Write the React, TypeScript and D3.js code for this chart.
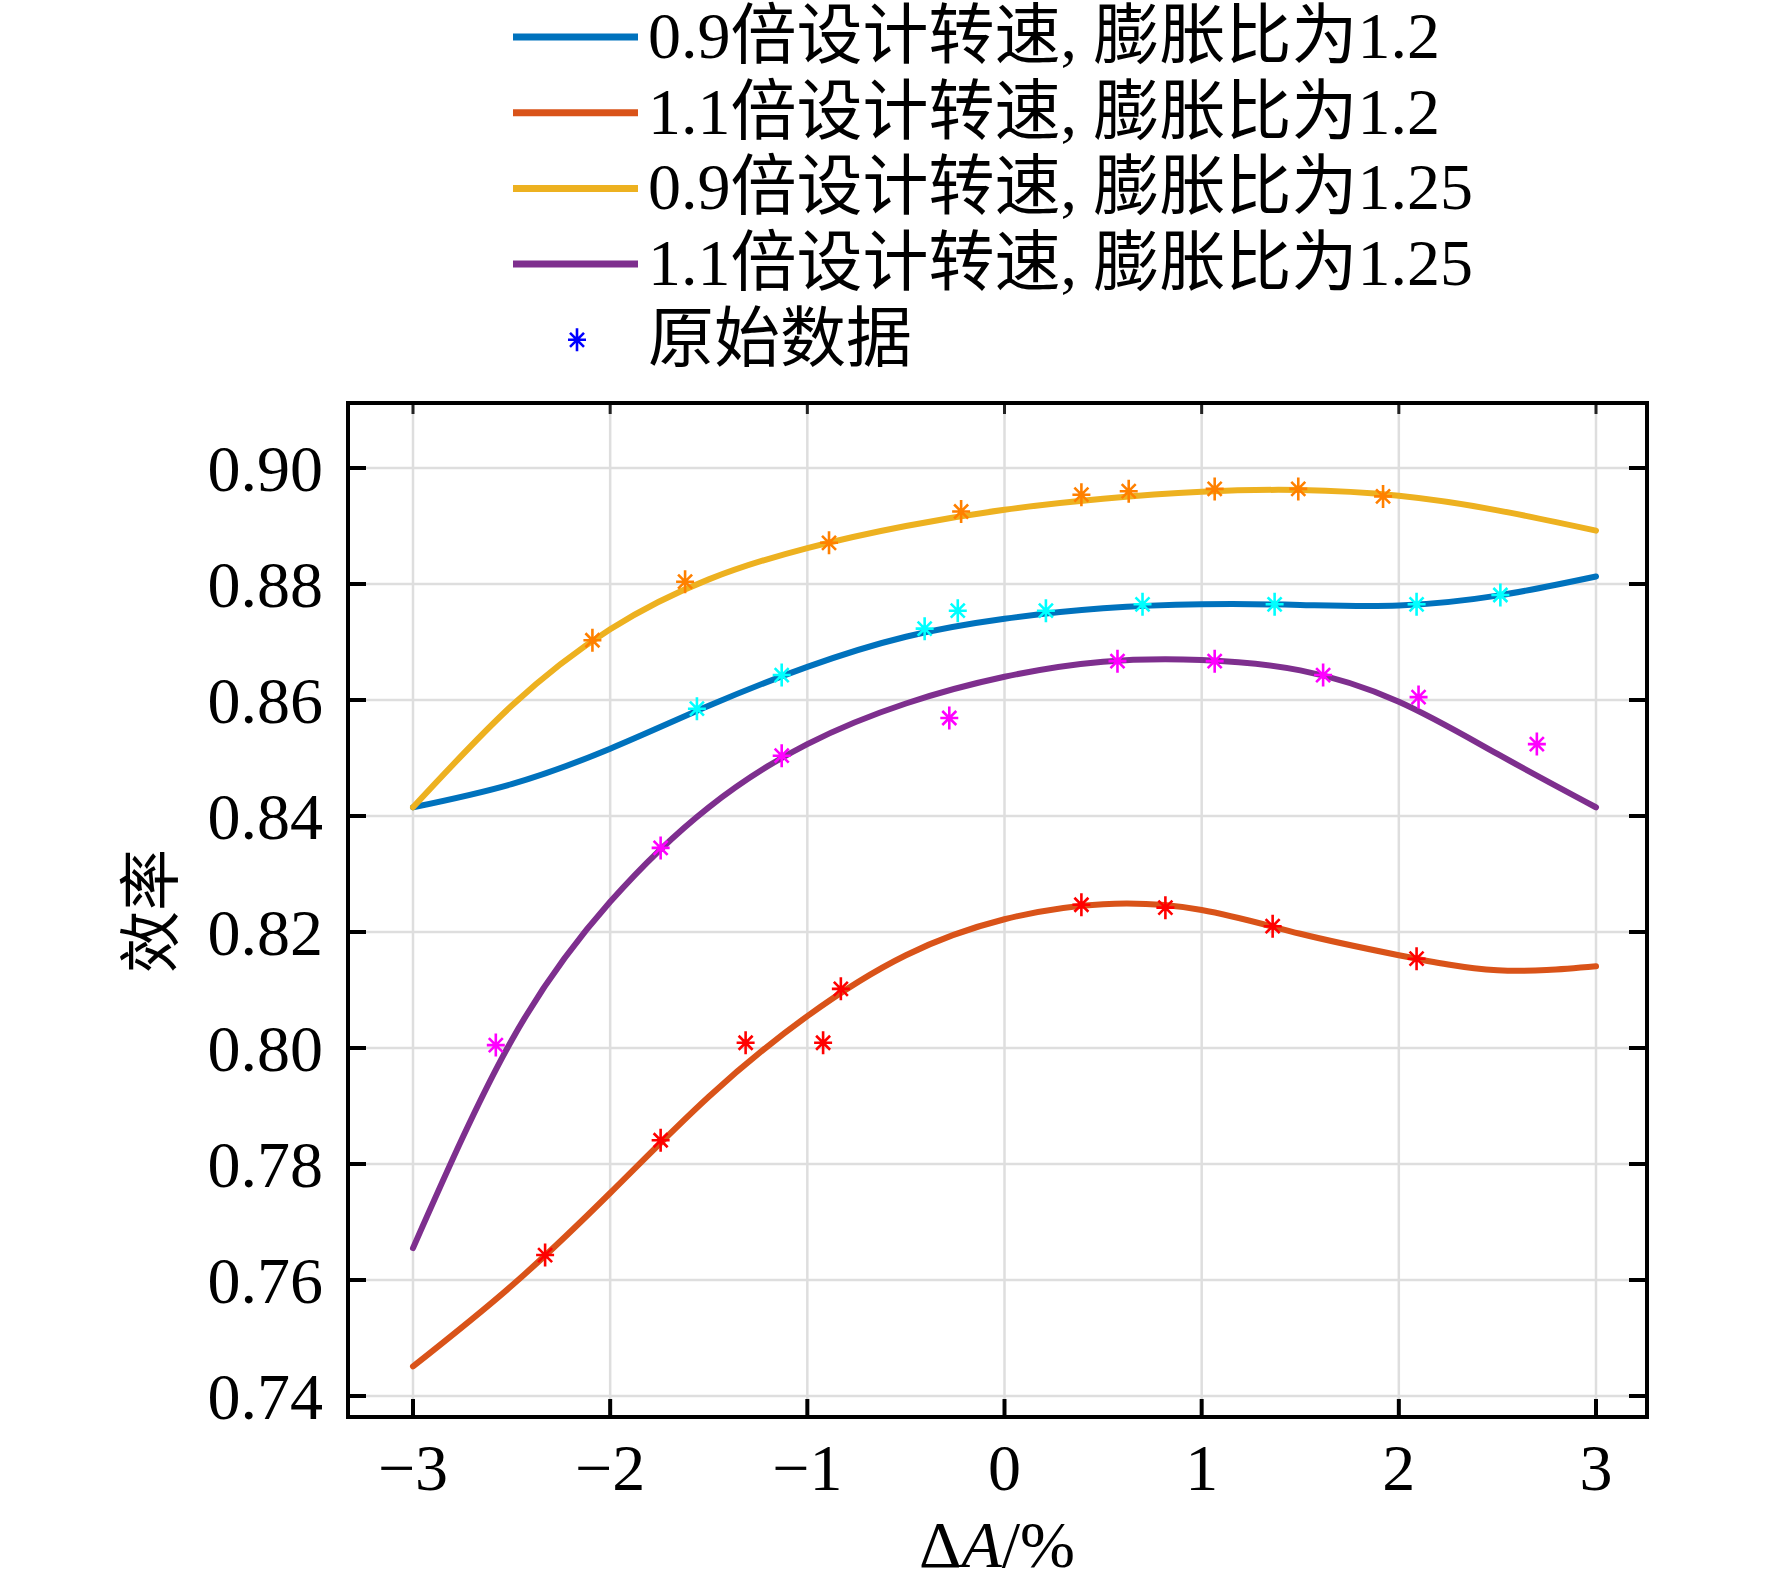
import * as d3 from "d3";

// fitted curves, sampled every 0.5 on ΔA
const sampleX = [-3, -2.5, -2, -1.5, -1, -0.5, 0, 0.5, 1, 1.5, 2, 2.5, 3];
const fit09r12 = [0.8415, 0.8455, 0.8516, 0.859, 0.8657, 0.8709, 0.874, 0.8758, 0.8765, 0.8764, 0.8763, 0.878, 0.8813];
const fit11r12 = [0.7451, 0.759, 0.775, 0.7916, 0.8055, 0.816, 0.8222, 0.8248, 0.8238, 0.8197, 0.816, 0.8134, 0.8141];
const fit09r125 = [0.8415, 0.859, 0.8722, 0.8808, 0.8862, 0.89, 0.8928, 0.8947, 0.8959, 0.8962, 0.8952, 0.8927, 0.8892];
const fit11r125 = [0.7655, 0.8013, 0.8252, 0.8415, 0.8524, 0.8594, 0.864, 0.8666, 0.8669, 0.8651, 0.8597, 0.8507, 0.8415];

// raw points (原始数据)
const raw09r12X = [-1.56, -1.13, -0.405, -0.237, 0.21, 0.7, 1.37, 2.09, 2.515];
const raw09r12Y = [0.8585, 0.8643, 0.8723, 0.8754, 0.8754, 0.8765, 0.8765, 0.8765, 0.8781];
const raw11r12X = [-2.33, -1.744, -1.313, -0.92, -0.83, 0.39, 0.816, 1.36, 2.09];
const raw11r12Y = [0.7643, 0.7841, 0.8009, 0.8009, 0.8102, 0.8247, 0.8242, 0.821, 0.8154];
const raw09r125X = [-2.09, -1.62, -0.89, -0.22, 0.39, 0.63, 1.066, 1.49, 1.92];
const raw09r125Y = [0.8703, 0.8804, 0.8871, 0.8925, 0.8954, 0.896, 0.8964, 0.8964, 0.8951];
const raw11r125X = [-2.58, -1.744, -1.13, -0.28, 0.573, 1.066, 1.616, 2.1, 2.7];
const raw11r125Y = [0.8005, 0.8345, 0.8504, 0.8569, 0.8667, 0.8667, 0.8643, 0.8605, 0.8524];

const seriesNames = [
  "0.9倍设计转速, 膨胀比为1.2",
  "1.1倍设计转速, 膨胀比为1.2",
  "0.9倍设计转速, 膨胀比为1.25",
  "1.1倍设计转速, 膨胀比为1.25",
];
const rawLabel = "原始数据";

const xTicks = [-3, -2, -1, 0, 1, 2, 3];
const yTicks = [0.74, 0.76, 0.78, 0.8, 0.82, 0.84, 0.86, 0.88, 0.9];

const lineColors = ["#0072BD", "#D95319", "#EDB120", "#7E2F8E"];
const markerColors = ["#00FFFF", "#FF0000", "#FF8000", "#FF00FF"];

const W = 1772;
const H = 1588;
const frame = { left: 348, right: 1647, top: 403, bottom: 1417 };
const FONT = "'Liberation Serif', 'Times New Roman', 'Noto Sans CJK SC', serif";

function asterisk(cx: number, cy: number) {
  const v = 11.5, h = 9, d = 7;
  return `M${cx},${cy - v}V${cy + v}M${cx - h},${cy}H${cx + h}` +
    `M${cx - d},${cy - d}L${cx + d},${cy + d}M${cx - d},${cy + d}L${cx + d},${cy - d}`;
}

export default function App() {
  const x = d3.scaleLinear().domain([-3, 3]).range([413, 1596]);
  const y = d3.scaleLinear().domain([0.74, 0.9]).range([1396, 468]);

  const fits = [fit09r12, fit11r12, fit09r125, fit11r125];
  const raws = [
    [raw09r12X, raw09r12Y],
    [raw11r12X, raw11r12Y],
    [raw09r125X, raw09r125Y],
    [raw11r125X, raw11r125Y],
  ];

  const line = d3
    .line<[number, number]>()
    .x((d) => x(d[0]))
    .y((d) => y(d[1]))
    .curve(d3.curveNatural);

  const fmtX = d3.format("d");
  const fmtY = d3.format(".2f");

  const legendX = 513;
  const legendRow = (i: number) => 37 + i * 75.7;

  return (
    <div style={{ position: "absolute", left: 0, top: 0 }}>
      <svg width={W} height={H} viewBox={`0 0 ${W} ${H}`} style={{ display: "block", background: "#fff" }}>
        <rect x={0} y={0} width={W} height={H} fill="#fff" />

        {/* grid */}
        {xTicks.map((t) => (
          <line key={`gx${t}`} x1={x(t)} x2={x(t)} y1={frame.top} y2={frame.bottom} stroke="#dedede" strokeWidth={2.5} />
        ))}
        {yTicks.map((t) => (
          <line key={`gy${t}`} x1={frame.left} x2={frame.right} y1={y(t)} y2={y(t)} stroke="#dedede" strokeWidth={2.5} />
        ))}

        {/* fitted curves */}
        {fits.map((vals, i) => (
          <path
            key={`c${i}`}
            d={line(sampleX.map((sx, j) => [sx, vals[j]] as [number, number])) ?? ""}
            fill="none"
            stroke={lineColors[i]}
            strokeWidth={6}
            strokeLinecap="round"
          />
        ))}

        {/* raw data */}
        {raws.map(([xs, ys], i) => (
          <g key={`r${i}`}>
            {xs.map((vx, j) => (
              <path key={j} d={asterisk(x(vx), y(ys[j]))} stroke={markerColors[i]} strokeWidth={2.6} fill="none" />
            ))}
          </g>
        ))}

        {/* ticks */}
        {xTicks.map((t) => (
          <g key={`tx${t}`}>
            <line x1={x(t)} x2={x(t)} y1={frame.bottom} y2={frame.bottom - 18} stroke="#000" strokeWidth={4} />
            <line x1={x(t)} x2={x(t)} y1={frame.top} y2={frame.top + 11} stroke="#222" strokeWidth={3} />
            <text x={x(t)} y={1490} textAnchor="middle" fontSize={66} fontFamily={FONT} fill="#000">
              {fmtX(t)}
            </text>
          </g>
        ))}
        {yTicks.map((t) => (
          <g key={`ty${t}`}>
            <line x1={frame.left} x2={frame.left + 18} y1={y(t)} y2={y(t)} stroke="#000" strokeWidth={4} />
            <line x1={frame.right} x2={frame.right - 18} y1={y(t)} y2={y(t)} stroke="#000" strokeWidth={4} />
            <text x={323} y={y(t) + 23} textAnchor="end" fontSize={66} fontFamily={FONT} fill="#000">
              {fmtY(t)}
            </text>
          </g>
        ))}

        {/* frame */}
        <rect
          x={frame.left}
          y={frame.top}
          width={frame.right - frame.left}
          height={frame.bottom - frame.top}
          fill="none"
          stroke="#000"
          strokeWidth={4}
        />

        {/* axis labels */}
        <text x={997} y={1567} textAnchor="middle" fontSize={66} fontFamily={FONT} fill="#000">
          <tspan>Δ</tspan>
          <tspan fontStyle="italic">A</tspan>
          <tspan>/%</tspan>
        </text>
        <text
          transform="translate(152,911) rotate(-90)"
          textAnchor="middle"
          dominantBaseline="central"
          fontSize={62}
          fontFamily={FONT}
          fill="#000"
        >
          效率
        </text>

        {/* legend */}
        {seriesNames.map((name, i) => (
          <g key={`l${i}`}>
            <line x1={legendX} x2={638} y1={legendRow(i)} y2={legendRow(i)} stroke={lineColors[i]} strokeWidth={7} />
            <text x={648} y={legendRow(i) + 21} fontSize={66} fontFamily={FONT} fill="#000">
              {name}
            </text>
          </g>
        ))}
        <path d={asterisk(577, legendRow(4))} stroke="#0000FF" strokeWidth={2.6} fill="none" />
        <text x={648} y={legendRow(4) + 21} fontSize={66} fontFamily={FONT} fill="#000">
          {rawLabel}
        </text>
      </svg>
    </div>
  );
}
